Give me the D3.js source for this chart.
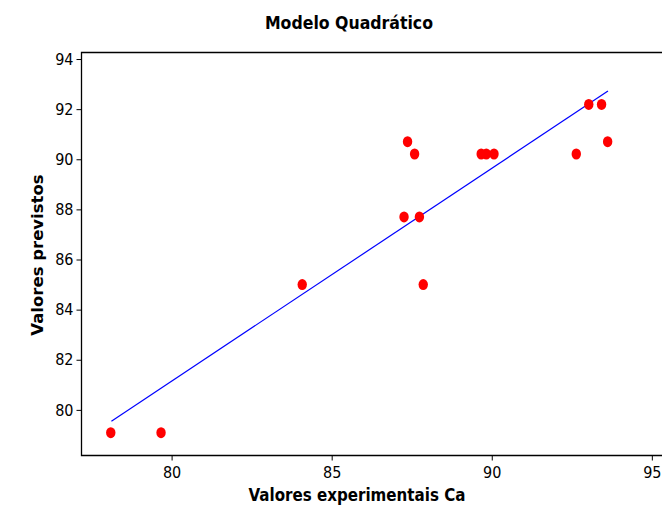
<!DOCTYPE html>
<html>
<head>
<meta charset="utf-8">
<script src="https://cdn.jsdelivr.net/npm/d3@7"></script>
<style>
  html, body { margin: 0; padding: 0; background: #fff; }
  svg { display: block; }
  .tick text { font-family: "Liberation Sans Narrow", "DejaVu Sans Condensed", "Liberation Sans", sans-serif; font-size: 16px; fill: #000; }
  .ttl { font-family: "DejaVu Sans Condensed", "Liberation Sans Narrow", sans-serif; font-weight: bold; fill: #000; }
</style>
</head>
<body>
<svg id="chart" width="662" height="508"></svg>
<script>
// Experimental vs predicted values (quadratic model)
const experimental = [78.10, 79.67, 84.08, 87.37, 87.59, 87.26, 87.74, 87.86, 89.67, 89.83, 90.07, 92.64, 93.03, 93.43, 93.62];
const predicted    = [79.09, 79.09, 85.00, 90.70, 90.21, 87.70, 87.70, 85.00, 90.21, 90.21, 90.21, 90.21, 92.19, 92.19, 90.70];

// Fitted line end points
const fitX = [78.12, 93.63];
const fitY = [79.55, 92.72];

const xTicks = [80, 85, 90, 95];
const yTicks = [80, 82, 84, 86, 88, 90, 92, 94];

const titleText = "Modelo Quadrático";
const xTitle = "Valores experimentais Ca";
const yTitle = "Valores previstos";

const svg = d3.select("#chart");
const plotL = 81, plotT = 52, plotB = 455, plotR = 672;

const x = d3.scaleLinear().domain([77.17, 95.63]).range([plotL, plotR]);
const y = d3.scaleLinear().domain([78.2, 94.28]).range([plotB, plotT]);

// frame (top, left, bottom)
svg.append("path")
  .attr("d", `M${plotR},${plotT + 0.5}H${plotL + 0.5}V${plotB + 0.5}H${plotR}`)
  .attr("fill", "none").attr("stroke", "#000").attr("stroke-width", 1.3);

const xAxis = svg.append("g").attr("transform", `translate(0,${plotB + 0.5})`)
  .call(d3.axisBottom(x).tickValues(xTicks).tickFormat(d3.format("d")).tickSize(5).tickPadding(6));
const yAxis = svg.append("g").attr("transform", `translate(${plotL + 0.5},0)`)
  .call(d3.axisLeft(y).tickValues(yTicks).tickFormat(d3.format("d")).tickSize(5).tickPadding(3));
[xAxis, yAxis].forEach(g => {
  g.select(".domain").remove();
  g.selectAll(".tick line").attr("stroke", "#000");
});

// fitted line
svg.append("line")
  .attr("x1", x(fitX[0])).attr("y1", y(fitY[0]))
  .attr("x2", x(fitX[1])).attr("y2", y(fitY[1]))
  .attr("stroke", "#0000ff").attr("stroke-width", 1.2);

// points
svg.append("g").selectAll("ellipse")
  .data(experimental.map((v, i) => [v, predicted[i]]))
  .join("ellipse")
  .attr("cx", d => x(d[0])).attr("cy", d => y(d[1]))
  .attr("rx", 4.7).attr("ry", 5.5)
  .attr("fill", "#ff0000");

// titles
svg.append("text").attr("class", "ttl")
  .attr("x", 349).attr("y", 29).attr("text-anchor", "middle")
  .attr("font-size", 17.5).text(titleText);
svg.append("text").attr("class", "ttl")
  .attr("x", 357).attr("y", 501).attr("text-anchor", "middle")
  .attr("font-size", 16.8).text(xTitle);
svg.append("text").attr("class", "ttl")
  .attr("transform", "translate(43,255) rotate(-90)").attr("text-anchor", "middle")
  .style("font-family", "'DejaVu Sans', Verdana, sans-serif")
  .attr("font-size", 16.5).text(yTitle);
</script>
</body>
</html>
